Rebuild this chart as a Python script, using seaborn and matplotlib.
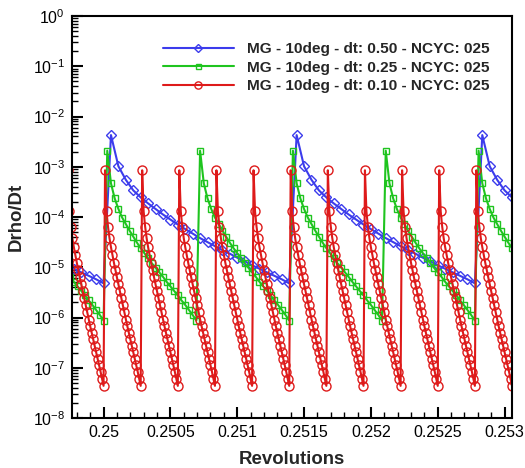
import numpy as np
import pandas as pd
import matplotlib
matplotlib.use("Agg")
import matplotlib.pyplot as plt
import seaborn as sns
from matplotlib.ticker import LogLocator, MultipleLocator, FixedLocator, FixedFormatter, NullFormatter

# ---------------- data ----------------
labels = ["MG - 10deg - dt: 0.50 - NCYC: 025",
          "MG - 10deg - dt: 0.25 - NCYC: 025",
          "MG - 10deg - dt: 0.10 - NCYC: 025"]
colors = ["#3c3cec", "#1fc41f", "#de1a1a"]
markers = ["D", "s", "o"]

# time-step size in revolutions (dt in degrees / 360)
step_blue = 0.50 / 360.0
step_green = 0.25 / 360.0
step_red = 0.10 / 360.0
ncyc = 25

# start of each time step (revolutions) visible in the plot
starts_blue = [0.25 - 0.50 / 360.0, 0.25, 0.25 + 0.50 / 360.0, 0.25 + 1.00 / 360.0]
starts_green = [0.25 - 0.25 / 360.0, 0.25, 0.25 + 0.25 / 360.0, 0.25 + 0.50 / 360.0,
                0.25 + 0.75 / 360.0, 0.25 + 1.00 / 360.0]
starts_red = [0.25 + n * 0.10 / 360.0 for n in [-1, 0, 1, 2, 3, 4, 5, 6, 7, 8, 9, 10]]

# log10(Drho/Dt) at each of the 25 sub-iterations inside one time step
prof_blue = [-2.37, -2.99, -3.26, -3.47, -3.61, -3.73, -3.84, -3.95, -4.05, -4.15,
             -4.24, -4.33, -4.42, -4.50, -4.58, -4.66, -4.73, -4.81, -4.88, -4.96,
             -5.03, -5.10, -5.17, -5.24, -5.32]
prof_green = [-2.68, -3.33, -3.63, -3.84, -4.01, -4.14, -4.27, -4.39, -4.51, -4.62,
              -4.72, -4.82, -4.92, -5.01, -5.10, -5.19, -5.29, -5.38, -5.47, -5.56,
              -5.66, -5.75, -5.85, -5.95, -6.06]
prof_red = [-3.07, -3.89, -4.19, -4.42, -4.60, -4.76, -4.91, -5.06, -5.20, -5.34,
            -5.48, -5.62, -5.76, -5.90, -6.04, -6.17, -6.30, -6.43, -6.56, -6.69,
            -6.82, -6.95, -7.08, -7.22, -7.36]

xticks = [0.25, 0.2505, 0.251, 0.2515, 0.252, 0.2525, 0.253]
xtick_labels = ["0.25", "0.2505", "0.251", "0.2515", "0.252", "0.2525", "0.253"]
yticks = [1e0, 1e-1, 1e-2, 1e-3, 1e-4, 1e-5, 1e-6, 1e-7, 1e-8]
ytick_labels = [r"$10^{0}$", r"$10^{-1}$", r"$10^{-2}$", r"$10^{-3}$", r"$10^{-4}$",
                r"$10^{-5}$", r"$10^{-6}$", r"$10^{-7}$", r"$10^{-8}$"]
xlim = (0.249764, 0.2530556)


def build(starts, step, prof):
    xs, ys = [], []
    for s in starts:
        for k in range(1, ncyc + 1):
            xs.append(s + k * step / ncyc)
            ys.append(10 ** prof[k - 1])
    return pd.DataFrame({"Revolutions": xs, "Drho/Dt": ys})


frames = [build(starts_blue, step_blue, prof_blue),
          build(starts_green, step_green, prof_green),
          build(starts_red, step_red, prof_red)]

# ---------------- style ----------------
sns.set_theme(style="white")
plt.rcParams["font.family"] = ["Liberation Sans", "DejaVu Sans"]
plt.rcParams["mathtext.fontset"] = "custom"
plt.rcParams["mathtext.rm"] = "Liberation Sans"
plt.rcParams["mathtext.it"] = "Liberation Sans"
plt.rcParams["mathtext.bf"] = "Liberation Sans:bold"

fig = plt.figure(figsize=(5.25, 4.68), dpi=100)
fig.patch.set_facecolor("white")
ax = fig.add_axes([72 / 525, 1 - 418 / 468, (512 - 72) / 525, (418 - 16) / 468])
ax.set_facecolor("white")
ax.set_yscale("log")

msizes = [5.5, 4.5, 6.5]
for df, lab, c, m, ms in zip(frames, labels, colors, markers, msizes):
    sns.lineplot(data=df, x="Revolutions", y="Drho/Dt", ax=ax, color=c, label=lab,
                 marker=m, markersize=ms, markerfacecolor="none", markeredgecolor=c,
                 markeredgewidth=1.0, linewidth=1.5, estimator=None, sort=False)

ax.set_xlim(*xlim)
ax.set_ylim(1e-8, 1e0)

ax.xaxis.set_major_locator(FixedLocator(xticks))
ax.xaxis.set_major_formatter(FixedFormatter(xtick_labels))
ax.xaxis.set_minor_locator(MultipleLocator(0.0001))
ax.yaxis.set_major_locator(FixedLocator(yticks))
ax.yaxis.set_major_formatter(FixedFormatter(ytick_labels))
ax.yaxis.set_minor_locator(LogLocator(base=10, subs=np.arange(2, 10), numticks=20))
ax.yaxis.set_minor_formatter(NullFormatter())

ax.tick_params(axis="both", which="major", direction="in", length=8, width=1.5,
               labelsize=11.5, color="black", labelcolor="black", pad=5,
               bottom=True, left=True, top=False, right=False)
ax.tick_params(axis="both", which="minor", direction="in", length=4, width=1.0,
               color="black", bottom=True, left=True, top=False, right=False)

for sp in ax.spines.values():
    sp.set_visible(True)
    sp.set_color("black")
    sp.set_linewidth(1.5)

ax.set_xlabel("Revolutions", fontsize=13.4, fontweight="bold", labelpad=8)
ax.set_ylabel("Drho/Dt", fontsize=13.4, fontweight="bold", labelpad=6)

leg = ax.legend(loc="upper left", bbox_to_anchor=(163 / 525, 1 - 42 / 468),
                bbox_transform=fig.transFigure, frameon=False,
                prop={"weight": "bold", "size": 11.1}, handlelength=4.6,
                handletextpad=0.85, labelspacing=0.3, borderpad=0, borderaxespad=0,
                numpoints=1, markerscale=0.8)

fig.savefig("out.png", dpi=100, facecolor="white")
